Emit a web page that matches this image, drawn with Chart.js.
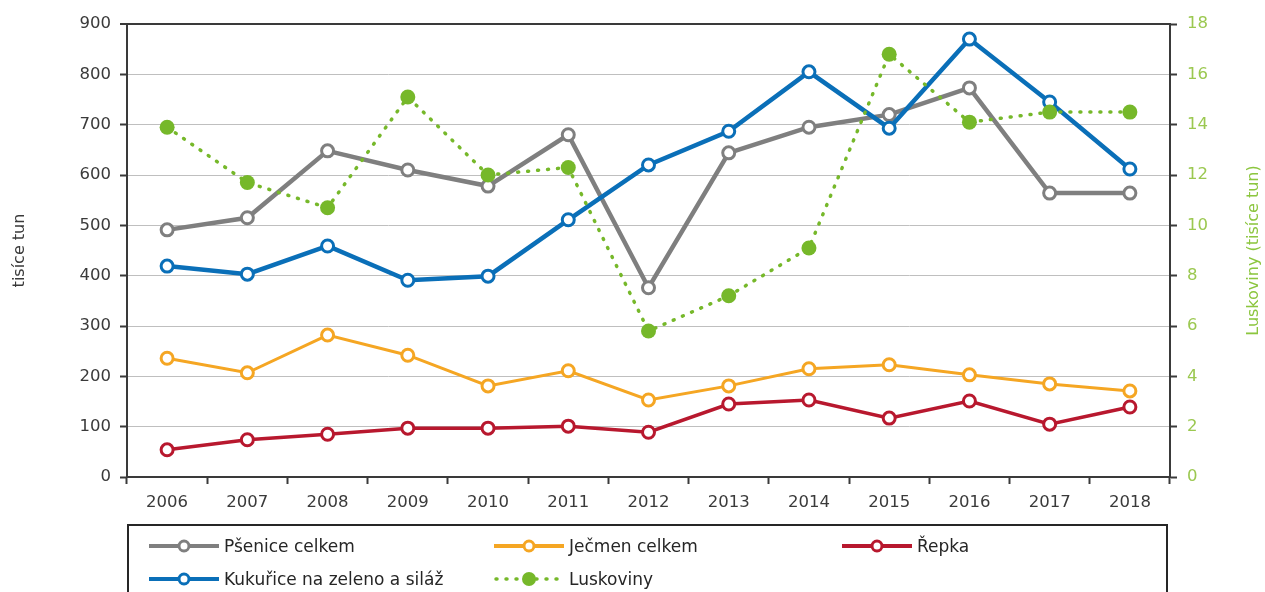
<!DOCTYPE html>
<html>
<head>
<meta charset="utf-8">
<script src="https://cdn.jsdelivr.net/npm/chart.js@4"></script>
<style>
  body { margin: 0; background: #fff; font-family: "DejaVu Sans", sans-serif; }
  #wrap { position: relative; width: 1265px; height: 592px; overflow: hidden; }
  #graf { position: absolute; left: 0; top: 0; }
  #legenda {
    position: absolute; left: 127px; top: 524px; width: 1041px; height: 90px;
    border: 2px solid #262626; box-sizing: border-box;
  }
  .pol { position: absolute; display: flex; align-items: center; font-size: 17px; color: #262626; }
  .pol svg { margin-right: 3px; }
</style>
</head>
<body>
<div id="wrap">
  <canvas id="graf" width="1265" height="592"></canvas>
  <div id="legenda"></div>
</div>
<script>
const roky = ['2006', '2007', '2008', '2009', '2010', '2011', '2012', '2013', '2014', '2015', '2016', '2017', '2018'];
const psenice = [491, 515, 648, 610, 578, 680, 376, 644, 695, 720, 773, 564, 564];
const jecmen = [236, 207, 282, 242, 181, 211, 153, 181, 215, 223, 203, 185, 171];
const repka = [54, 74, 85, 97, 97, 101, 89, 145, 153, 117, 151, 105, 139];
const kukurice = [419, 403, 459, 391, 399, 511, 620, 687, 805, 693, 870, 745, 612];
const luskoviny = [13.9, 11.7, 10.7, 15.1, 12.0, 12.3, 5.8, 7.2, 9.1, 16.8, 14.1, 14.5, 14.5];
const nazvy = ['Pšenice celkem', 'Ječmen celkem', 'Řepka', 'Kukuřice na zeleno a siláž', 'Luskoviny'];

const tmava = '#3a3a3a';
const barvy = { psenice: '#7f7f7f', jecmen: '#f5a623', repka: '#b8182e', kukurice: '#0a6fb8', luskoviny: '#76b82a' };

function prazdna(nazev, data, barva, sirka, poradi) {
  return {
    label: nazev, data, yAxisID: 'y', order: poradi,
    borderColor: barva, borderWidth: sirka,
    pointRadius: 6, pointBorderWidth: 3, pointBackgroundColor: '#fff', pointBorderColor: barva,
    tension: 0
  };
}

const titulky = {
  id: 'titulky',
  afterDraw(chart) {
    const c = chart.ctx;
    const a = chart.chartArea;
    const stred = (a.top + a.bottom) / 2;
    c.save();
    c.font = '16px "DejaVu Sans"';
    c.textAlign = 'center';
    c.textBaseline = 'middle';
    c.fillStyle = tmava;
    c.translate(20, stred);
    c.rotate(-Math.PI / 2);
    c.fillText('tisíce tun', 0, 0);
    c.restore();
    c.save();
    c.font = '16px "DejaVu Sans"';
    c.textAlign = 'center';
    c.textBaseline = 'middle';
    c.fillStyle = '#8cc63f';
    c.translate(1254, stred);
    c.rotate(-Math.PI / 2);
    c.fillText('Luskoviny (tisíce tun)', 0, 0);
    c.restore();
  }
};

new Chart(document.getElementById('graf'), {
  type: 'line',
  data: {
    labels: roky,
    datasets: [
      prazdna(nazvy[0], psenice, barvy.psenice, 4.5, 3),
      prazdna(nazvy[1], jecmen, barvy.jecmen, 3, 4),
      prazdna(nazvy[2], repka, barvy.repka, 3.5, 2),
      prazdna(nazvy[3], kukurice, barvy.kukurice, 4.5, 1),
      {
        label: nazvy[4], data: luskoviny, yAxisID: 'y2', order: 0,
        borderColor: barvy.luskoviny, borderWidth: 3.5, borderDash: [1, 9], borderCapStyle: 'round',
        pointRadius: 7.5, pointBorderWidth: 0, pointBackgroundColor: barvy.luskoviny, tension: 0
      }
    ]
  },
  options: {
    responsive: false,
    animation: false,
    layout: { padding: { top: 24, left: 0, right: 0, bottom: 0 } },
    plugins: { legend: { display: false }, tooltip: { enabled: false } },
    scales: {
      x: {
        offset: true,
        grid: { offset: true, drawOnChartArea: false, drawTicks: true, tickLength: 7, tickColor: tmava, tickWidth: 2 },
        border: { color: tmava, width: 2 },
        ticks: { color: tmava, font: { family: 'DejaVu Sans', size: 16.5 }, padding: 9, maxRotation: 0 },
        afterFit(s) { s.height = 115; }
      },
      y: {
        position: 'left', min: 0, max: 900,
        ticks: { stepSize: 100, color: tmava, font: { family: 'DejaVu Sans', size: 16.5 }, padding: 9 },
        grid: {
          color: ctx => ctx.tick && ctx.tick.value === 900 ? tmava : '#bfbfbf',
          lineWidth: ctx => ctx.tick && ctx.tick.value === 900 ? 2 : 1,
          tickColor: tmava, tickLength: 7, tickWidth: 2
        },
        border: { color: tmava, width: 2 },
        afterFit(s) { s.width = 127; }
      },
      y2: {
        position: 'right', min: 0, max: 18,
        ticks: { stepSize: 2, color: '#9bc850', font: { family: 'DejaVu Sans', size: 16.5 }, padding: 10 },
        grid: { drawOnChartArea: false, tickColor: tmava, tickLength: 7, tickWidth: 2 },
        border: { color: tmava, width: 2 },
        afterFit(s) { s.width = 95; }
      }
    }
  },
  plugins: [titulky]
});

// legenda v rámečku pod grafem
const legenda = document.getElementById('legenda');
const polozky = [
  { t: nazvy[0], b: barvy.psenice, x: 18, y: 20 },
  { t: nazvy[1], b: barvy.jecmen, x: 363, y: 20 },
  { t: nazvy[2], b: barvy.repka, x: 711, y: 20 },
  { t: nazvy[3], b: barvy.kukurice, x: 18, y: 53 },
  { t: nazvy[4], b: barvy.luskoviny, x: 363, y: 53, tecky: true }
];
polozky.forEach(p => {
  const d = document.createElement('div');
  d.className = 'pol';
  d.style.left = p.x + 'px';
  d.style.top = (p.y - 11) + 'px';
  const cara = p.tecky
    ? `<line x1="4" y1="11" x2="70" y2="11" stroke="${p.b}" stroke-width="3.5" stroke-dasharray="1 9" stroke-linecap="round"/><circle cx="37" cy="11" r="7" fill="${p.b}"/>`
    : `<line x1="2" y1="11" x2="72" y2="11" stroke="${p.b}" stroke-width="4"/><circle cx="37" cy="11" r="5" fill="#fff" stroke="${p.b}" stroke-width="3"/>`;
  d.innerHTML = `<svg width="74" height="22">${cara}</svg><span>${p.t}</span>`;
  legenda.appendChild(d);
});
</script>
</body>
</html>
